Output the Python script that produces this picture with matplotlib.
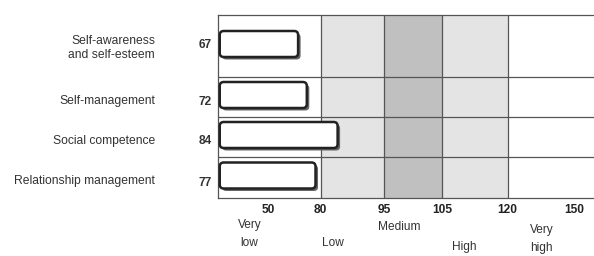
import numpy as np
import matplotlib
matplotlib.use("Agg")
import matplotlib.pyplot as plt
from matplotlib.patches import FancyBboxPatch
from matplotlib.transforms import IdentityTransform

plt.rcParams['font.family'] = ['Liberation Sans', 'DejaVu Sans']

# ---- data ----
categories = ["Self-awareness\nand self-esteem", "Self-management",
              "Social competence", "Relationship management"]
scores = [67, 72, 84, 77]
tick_values = [50, 80, 95, 105, 120, 150]
band_edges = [80, 95, 105, 120]
band_names = ["Very\nlow", "Low", "Medium", "High", "Very\nhigh"]

# ---- piecewise axis scale (schematic, non-linear) ----
knot_vals = np.array([20, 50, 80, 95, 105, 120, 150, 160], dtype=float)
knot_pos = np.array([216, 268, 320, 383, 441, 506, 572, 594], dtype=float)

def fwd(v):
    return np.interp(v, knot_vals, knot_pos)

def inv(p):
    return np.interp(p, knot_pos, knot_vals)

W, H = 594, 256
fig = plt.figure(figsize=(W / 100, H / 100), dpi=100)
ax = fig.add_axes([218 / W, 1 - 198 / H, (W - 218 + 2) / W, (198 - 15) / H])
ax.set_xscale('function', functions=(fwd, inv))
ax.set_xlim(21, 160.5)

# rows (top to bottom), row heights in px-like units
row_h = [62, 40, 40, 41]
bounds = np.concatenate([[0], np.cumsum(row_h)])
centers = (bounds[:-1] + bounds[1:]) / 2 - 2
ax.set_ylim(bounds[-1], 0)

# bands
ax.axvspan(band_edges[0], band_edges[1], color='#e4e4e4', lw=0, zorder=0)
ax.axvspan(band_edges[1], band_edges[2], color='#c0c0c0', lw=0, zorder=0)
ax.axvspan(band_edges[2], band_edges[3], color='#e4e4e4', lw=0, zorder=0)
for e in band_edges:
    ax.axvline(e, color='#555555', lw=0.9, zorder=1)
for b in bounds[1:-1]:
    ax.axhline(b, color='#555555', lw=0.9, zorder=1)

for s in ['left', 'top', 'bottom', 'right']:
    ax.spines[s].set_color('#555555')
    ax.spines[s].set_linewidth(0.9)

ax.set_yticks([])
ax.set_xticks(tick_values)
ax.set_xticklabels([str(t) for t in tick_values], fontweight='bold', fontsize=8.6)
ax.tick_params(axis='x', length=0, pad=4, colors='#222222')

# bars (rounded, with drop shadow), drawn in display space from data via transData
fig.canvas.draw()
bar_h = 26
x_start = 22
for c, v in zip(centers, scores):
    (x0, y0) = ax.transData.transform((x_start, c + bar_h / 2))
    (x1, y1) = ax.transData.transform((v, c - bar_h / 2))
    w, h = x1 - x0, y1 - y0
    shadow = FancyBboxPatch((x0 + 2.5, y0 - 2.5), w, h,
                            boxstyle="round,pad=0,rounding_size=4",
                            transform=IdentityTransform(), facecolor='#666666',
                            edgecolor='none', zorder=3)
    bar = FancyBboxPatch((x0, y0), w, h,
                         boxstyle="round,pad=0,rounding_size=4",
                         transform=IdentityTransform(), facecolor='white',
                         edgecolor='#222222', lw=1.8, zorder=4)
    fig.add_artist(shadow)
    fig.add_artist(bar)

# category labels and score values
cat_adj = [4, 6, 6, 5.5]
val_adj = [1, 7, 6, 7.5]
for c, cat, v, a1, a2 in zip(centers, categories, scores, cat_adj, val_adj):
    ax.annotate(cat, xy=(155, c + a1), xycoords=("figure pixels", "data"),
                ha='right', va='center', fontsize=8.7, color='#333333',
                linespacing=1.2, annotation_clip=False)
    ax.annotate(str(v), xy=(212, c + a2),
                xycoords=("figure pixels", "data"),
                ha='right', va='center', fontsize=8.6, fontweight='bold',
                color='#333333', annotation_clip=False)

# band names below the axis
band_x = [39, 83, 97.6, 110, 135.5]
band_dy = [-36, -45, -29, -49, -41]
for bx, name, dy in zip(band_x, band_names, band_dy):
    ax.annotate(name, xy=(bx, 0), xycoords=('data', 'axes fraction'),
                xytext=(0, dy), textcoords='offset pixels',
                ha='center', va='center', fontsize=8.6, color='#333333',
                linespacing=1.6, annotation_clip=False)
ax.set_ylim(bounds[-1], 0)

fig.savefig("out.png", dpi=100, facecolor='white')
